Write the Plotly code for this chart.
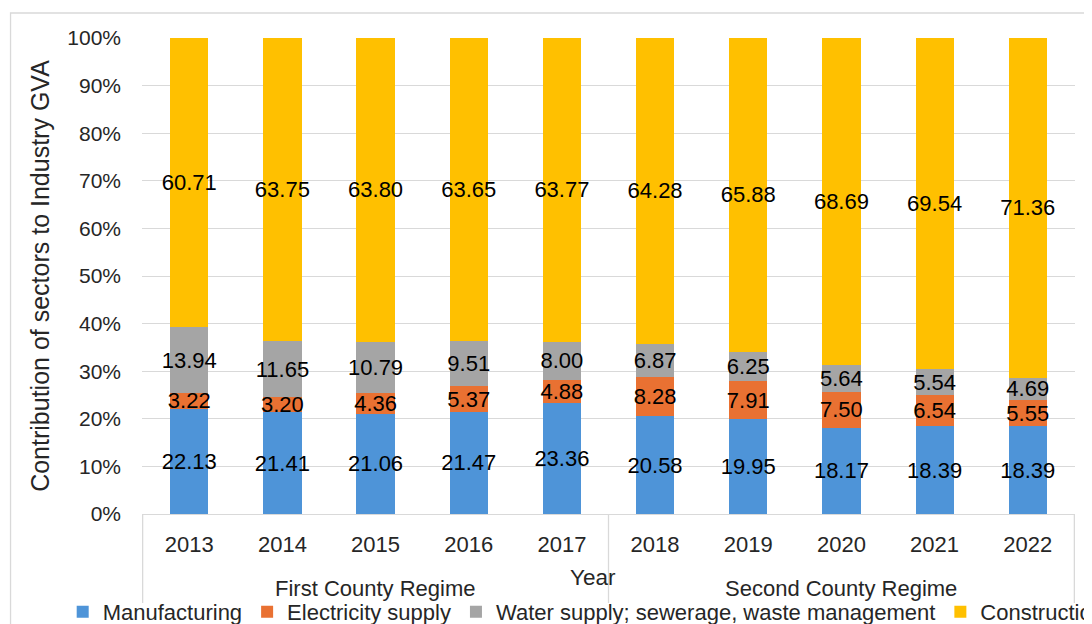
import plotly.graph_objects as go

# data
years = ['2013', '2014', '2015', '2016', '2017', '2018', '2019', '2020', '2021', '2022']
regimes = ['First County Regime'] * 5 + ['Second County Regime'] * 5
manufacturing = [22.13, 21.41, 21.06, 21.47, 23.36, 20.58, 19.95, 18.17, 18.39, 18.39]
electricity = [3.22, 3.20, 4.36, 5.37, 4.88, 8.28, 7.91, 7.50, 6.54, 5.55]
water = [13.94, 11.65, 10.79, 9.51, 8.00, 6.87, 6.25, 5.64, 5.54, 4.69]
construction = [60.71, 63.75, 63.80, 63.65, 63.77, 64.28, 65.88, 68.69, 69.54, 71.36]
y_ticks = [0, 10, 20, 30, 40, 50, 60, 70, 80, 90, 100]
y_tick_labels = ['0%', '10%', '20%', '30%', '40%', '50%', '60%', '70%', '80%', '90%', '100%']

series = [
    ('Manufacturing', manufacturing, '#4E94D8'),
    ('Electricity supply', electricity, '#E97132'),
    ('Water supply; sewerage, waste management', water, '#A5A5A5'),
    ('Construction', construction, '#FFC000'),
]

FONT = 'Liberation Sans, Arial, sans-serif'
GRID = '#D9D9D9'
TXT = '#262626'

fig = go.Figure()
for name, vals, col in series:
    fig.add_trace(go.Bar(
        x=years, y=vals, name=name,
        marker=dict(color=col, line=dict(width=0)),
        texttemplate='%{y:.2f}', textposition='inside', textangle=0,
        insidetextanchor='middle', constraintext='none',
        textfont=dict(color='black', size=22, family=FONT),
    ))

# the page body has an 8px margin, so the figure is sized to fit the window
fig.update_layout(
    barmode='stack', bargap=0.59,
    width=1084, height=616,
    margin=dict(l=133.5, r=17, t=30, b=110, autoexpand=False),
    paper_bgcolor='white', plot_bgcolor='white',
    font=dict(family=FONT, size=21, color=TXT),
    uniformtext=dict(minsize=22, mode='show'),
    legend=dict(orientation='h', traceorder='normal', x=-0.085, y=-0.206,
                xanchor='left', yanchor='middle',
                font=dict(size=22, color=TXT), itemwidth=30,
                bgcolor='rgba(0,0,0,0)'),
    yaxis=dict(range=[0, 100], tickmode='array', tickvals=y_ticks, ticktext=y_tick_labels,
               showgrid=True, gridcolor=GRID, gridwidth=1.3,
               zeroline=False, showline=False, ticks='', ticklabelstandoff=20,
               tickfont=dict(size=21, color=TXT),
               title=dict(text='Contribution of sectors to Industry GVA',
                          font=dict(size=25, color=TXT), standoff=10)),
    xaxis=dict(type='category', showline=True, linecolor=GRID, linewidth=1.3,
               ticks='', ticklabelstandoff=10, showgrid=False,
               tickfont=dict(size=22, color=TXT)),
)

# group labels and dividers for the two regimes
groups = []
for i, r in enumerate(regimes):
    if not groups or groups[-1][0] != r:
        groups.append([r, i, i])
    else:
        groups[-1][2] = i
for r, i0, i1 in groups:
    fig.add_annotation(text=r, xref='x', yref='paper', x=(i0 + i1) / 2, y=-0.1555,
                       showarrow=False, yanchor='middle', font=dict(size=22, color=TXT))
bounds = [groups[0][1] - 0.5] + [g[2] + 0.5 for g in groups]
for b in bounds:
    fig.add_shape(type='line', xref='x', yref='paper', x0=b, x1=b, y0=0, y1=-0.187,
                  line=dict(color=GRID, width=1.3))

fig.add_annotation(text='Year', xref='paper', yref='paper', x=0.4837, y=-0.134,
                   showarrow=False, yanchor='middle', font=dict(size=22.5, color=TXT))

# chart-area border
fig.add_shape(type='rect', xref='paper', yref='paper', x0=-0.1409, x1=1.2, y0=-0.5, y1=1.0525,
              line=dict(color=GRID, width=1.3), layer='below')

fig.write_html('out.html')
